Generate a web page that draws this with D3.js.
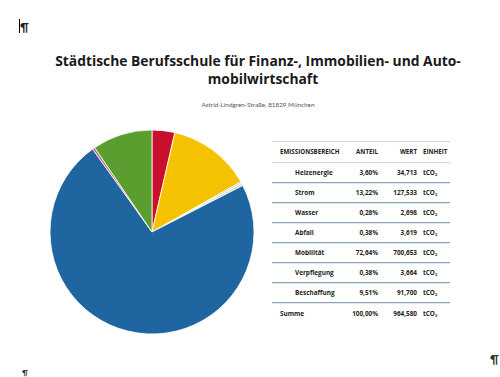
<!DOCTYPE html>
<html>
<head>
<meta charset="utf-8">
<script src="https://cdn.jsdelivr.net/npm/d3@7"></script>
<style>
  body { margin: 0; background: #fff; }
  svg { display: block; font-family: "Lato", "Noto Sans", sans-serif; }
  .tbl { font-family: "Open Sans", "Noto Sans", sans-serif; }
</style>
</head>
<body>
<div id="chart"></div>
<script>
// data
const categories = ["Heizenergie", "Strom", "Wasser", "Abfall", "Mobilität", "Verpflegung", "Beschaffung"];
const values = [34713, 127533, 2698, 3619, 700653, 3664, 91700];
const shareLabels = ["3,60%", "13,22%", "0,28%", "0,38%", "72,64%", "0,38%", "9,51%"];
const valueLabels = ["34,713", "127,533", "2,698", "3,619", "700,653", "3,664", "91,700"];
const colors = ["#c8102e", "#f5c200", "#c9d6cf", "#d9dfc0", "#1f65a0", "#c8607a", "#5a9e2f"];
const headers = ["EMISSIONSBEREICH", "ANTEIL", "WERT", "EINHEIT"];
const total = {label: "Summe", share: "100,00%", value: "964,580"};

const width = 500, height = 377;

const svg = d3.select("#chart")
    .append("svg")
    .attr("width", width)
    .attr("height", height);

// pilcrows like in the word document
svg.append("text").attr("x", 20).attr("y", 31).attr("font-size", 12).attr("font-weight", 700)
    .attr("fill", "#222").text("¶");
svg.append("line").attr("x1", 19.5).attr("x2", 19.5).attr("y1", 19).attr("y2", 33)
    .attr("stroke", "#000").attr("stroke-width", 1);
svg.append("text").attr("x", 490).attr("y", 363).attr("font-size", 12).attr("font-weight", 700)
    .attr("fill", "#333").text("¶");
svg.append("text").attr("x", 22).attr("y", 376).attr("font-size", 8).attr("font-weight", 700)
    .attr("fill", "#333").text("¶");

// title, fitted to width
function fitText(sel, targetWidth) {
    let w = sel.node().getComputedTextLength();
    let fs = +sel.attr("font-size");
    sel.attr("font-size", fs * targetWidth / w);
}

let t1 = svg.append("text")
    .attr("x", 258).attr("y", 66)
    .attr("text-anchor", "middle")
    .attr("font-size", 16).attr("font-weight", 700)
    .attr("fill", "#1a1a1a")
    .style("font-family", "'Open Sans', sans-serif")
    .text("Städtische Berufsschule für Finanz-, Immobilien- und Auto-");
fitText(t1, 406);

let t2 = svg.append("text")
    .attr("x", 263).attr("y", 83.5)
    .attr("text-anchor", "middle")
    .attr("font-size", +t1.attr("font-size")).attr("font-weight", 700)
    .attr("fill", "#1a1a1a")
    .style("font-family", "'Open Sans', sans-serif")
    .text("mobilwirtschaft");

let sub = svg.append("text")
    .attr("x", 258).attr("y", 107)
    .attr("text-anchor", "middle")
    .attr("font-size", 6).attr("fill", "#555")
    .text("Astrid-Lindgren-Straße, 81829 München");
fitText(sub, 113);

// pie
const pie = d3.pie().sort(null).value(d => d.value);
const arc = d3.arc().innerRadius(0).outerRadius(102);
const pieData = pie(categories.map((c, i) => ({name: c, value: values[i], color: colors[i]})));

svg.append("g")
    .attr("transform", "translate(152, 232)")
    .selectAll("path")
    .data(pieData)
    .enter()
    .append("path")
    .attr("d", arc)
    .attr("fill", d => d.data.color)
    .attr("stroke", "#fff")
    .attr("stroke-width", 0.8);

// table
const x0 = 272, x1 = 450;
const yRow = d3.scaleBand().domain(categories).range([162.7, 302.7]);
const tbl = svg.append("g").attr("class", "tbl");
const fs = 6.4;

tbl.append("line").attr("x1", x0).attr("x2", x1).attr("y1", 141.5).attr("y2", 141.5)
    .attr("stroke", "#d5d5d5").attr("stroke-width", 1);
tbl.append("line").attr("x1", x0).attr("x2", x1).attr("y1", 162.7).attr("y2", 162.7)
    .attr("stroke", "#d0d0d0").attr("stroke-width", 1);

const colX = [280, 378, 417, 423];
const colAnchor = ["start", "end", "end", "start"];

tbl.append("g").selectAll("text")
    .data(headers)
    .enter()
    .append("text")
    .attr("x", (d, i) => colX[i])
    .attr("y", 154)
    .attr("text-anchor", (d, i) => colAnchor[i])
    .attr("font-size", 6.2).attr("font-weight", 700)
    .attr("fill", "#222")
    .text(d => d);

const rows = tbl.append("g").selectAll("g")
    .data(categories)
    .enter()
    .append("g")
    .attr("transform", d => "translate(0," + yRow(d) + ")");

rows.append("line")
    .attr("x1", x0).attr("x2", x1)
    .attr("y1", yRow.bandwidth()).attr("y2", yRow.bandwidth())
    .attr("stroke", "#8ba3b8").attr("stroke-width", 1.3);

rows.append("text")
    .attr("x", 295).attr("y", 12.5)
    .attr("font-size", fs).attr("font-weight", 700).attr("fill", "#222")
    .text(d => d);

rows.append("text")
    .attr("x", colX[1]).attr("y", 12.5).attr("text-anchor", "end")
    .attr("font-size", fs).attr("font-weight", 700).attr("fill", "#222")
    .text((d, i) => shareLabels[i]);

rows.append("text")
    .attr("x", colX[2]).attr("y", 12.5).attr("text-anchor", "end")
    .attr("font-size", fs).attr("font-weight", 700).attr("fill", "#222")
    .text((d, i) => valueLabels[i]);

function unit(sel) {
    sel.append("tspan").text("tCO");
    sel.append("tspan").attr("font-size", 4).attr("dy", 1.2).text("2");
}
rows.append("text")
    .attr("x", colX[3]).attr("y", 12.5)
    .attr("font-size", fs).attr("font-weight", 700).attr("fill", "#222")
    .call(unit);

// summe row
const ySum = 316;
tbl.append("text").attr("x", 280).attr("y", ySum)
    .attr("font-size", fs).attr("font-weight", 700).attr("fill", "#222").text(total.label);
tbl.append("text").attr("x", colX[1]).attr("y", ySum).attr("text-anchor", "end")
    .attr("font-size", fs).attr("font-weight", 700).attr("fill", "#222").text(total.share);
tbl.append("text").attr("x", colX[2]).attr("y", ySum).attr("text-anchor", "end")
    .attr("font-size", fs).attr("font-weight", 700).attr("fill", "#222").text(total.value);
tbl.append("text").attr("x", colX[3]).attr("y", ySum)
    .attr("font-size", fs).attr("font-weight", 700).attr("fill", "#222").call(unit);
</script>
</body>
</html>
